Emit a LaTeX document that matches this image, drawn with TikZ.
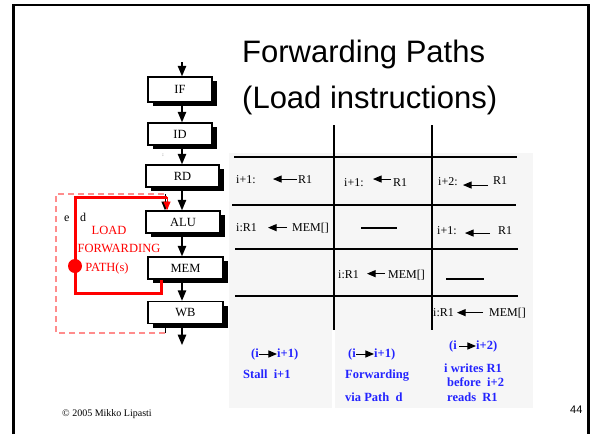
\documentclass[tikz,border=0pt]{standalone}
\usepackage{fontspec}
\setmainfont{Liberation Serif}
\newfontfamily\arialfont{Liberation Sans}
\usetikzlibrary{arrows,shadows}
\definecolor{notes}{RGB}{35,35,255}
\definecolor{panel}{RGB}{246,246,246}

\begin{document}
\begin{tikzpicture}
  [x=1pt,y=-1pt,
   every node/.style={inner sep=0pt,font=\fontsize{12}{14}\selectfont},
   stage/.style={draw,line width=1.6pt,fill=white,minimum height=22pt,
     font=\fontsize{12.5}{14}\selectfont,
     drop shadow={shadow xshift=5pt,shadow yshift=-4pt,fill=black,opacity=1}},
   txt/.style={anchor=base west},
   redtxt/.style={anchor=base,text=red,font=\fontsize{12.5}{14}\selectfont},
   note/.style={anchor=base west,text=notes,font=\fontsize{12.5}{14}\selectfont\bfseries},
   tip/.style={line width=1.4pt,arrows={-{triangle 45}}},
   small/.style={line width=1pt,arrows={-{triangle 45}}}]
  \useasboundingbox (0,0) rectangle (591,434);

  % slide frame
  \draw[line width=2.5pt] (13.5,434) -- (13.5,5) -- (588.5,5) -- (588.5,434);

  % title
  \node[txt,font=\arialfont\fontsize{31}{32}\selectfont] (title1) at (242,62) {Forwarding Paths};
  \node[txt,font=\arialfont\fontsize{31}{32}\selectfont] (title2) at (242,108) {(Load instructions)};

  % table background and grid
  \fill[panel] (229,153) rectangle (533,330);
  \fill[panel] (229,330) rectangle (332,408);
  \fill[panel] (335,330) rectangle (533,408);
  \draw[line width=1.6pt] (334,125) -- (334,330);
  \draw[line width=1.6pt] (432,125) -- (432,330);
  \draw[line width=1.5pt] (234,157) -- (517,157);
  \draw[line width=1.5pt] (232,205) -- (516,205);
  \draw[line width=1.5pt] (235,249) -- (518,249);
  \draw[line width=1.5pt] (235,296) -- (518,296);

  % pipeline
  \node[stage,minimum width=64pt,minimum height=25pt] (IF) at (180,89.5) {IF};
  \node[stage,minimum width=64pt] (ID) at (180,134) {ID};
  \node[stage,minimum width=73pt] (RD) at (182.5,176) {RD};
  \node[stage,minimum width=74pt] (ALU) at (183,222) {ALU};
  \node[stage,minimum width=75pt] (MEM) at (185.5,268) {MEM};
  \node[stage,minimum width=75pt] (WB) at (185.5,312.5) {WB};
  \node[font=\tiny] (dots) at (163,155) {:};

  \coordinate (in) at (182,62);
  \coordinate (out) at (182,345);
  \draw[tip] (in) -- (IF.north -| in);
  \draw[tip] (IF.south -| in) -- (ID.north -| in);
  \draw[tip] (ID.south -| in) -- (RD.north -| in);
  \draw[tip] (RD.south -| in) -- (ALU.north -| in);
  \draw[tip] (ALU.south -| in) -- (MEM.north -| in);
  \draw[tip] (MEM.south -| in) -- (WB.north -| in);
  \draw[tip] (WB.south -| in) -- (out);

  % path e (dashed)
  \coordinate (eTop) at (165,194);
  \coordinate (eBot) at (165,333);
  \coordinate (eLeft) at (56,260);
  \draw[red!45,line width=1.2pt,dash pattern=on 6pt off 4pt] (eBot) -| (eLeft) |- (eTop);
  \draw[small] (eTop) -- (eTop |- ALU.north);
  \draw[line width=1pt] (eBot) -- ++(0,-6);
  \node[txt] (e) at (64,221) {e};
  \node[txt] (d) at (80,221) {d};

  % path d (load forwarding)
  \coordinate (memL) at (161,293);
  \coordinate (fwd) at (167,197);
  \node[circle,fill=red,minimum size=14pt] (dot) at (75,266) {};
  \draw[red,line width=3pt] (memL |- MEM.south) -- (memL) -| (dot.center) |- (fwd);
  \draw[red,small] (fwd) -- (fwd |- ALU.north);
  \node[redtxt] (ld1) at (109,234) {LOAD};
  \node[redtxt] (ld2) at (119,252) {FORWARDING};
  \node[redtxt] (ld3) at (107,271) {PATH(s)};

  % cells
  \node[txt] (a11) at (236,183) {i+1:};
  \node[txt] (b11) at (298,183) {R1};
  \draw[small] ([xshift=-1pt]b11.west) -- ++(-24,0);
  \node[txt] (a12) at (344,186) {i+1:};
  \node[txt] (b12) at (393,186) {R1};
  \draw[small] ([shift={(-2,-3)}]b12.west) -- ++(-18,0);
  \node[txt] (a13) at (438,185) {i+2:};
  \node[txt] (b13) at (493,184) {R1};
  \draw[small] ([shift={(-5,5)}]b13.west) -- ++(-25,0);

  \node[txt] (a21) at (236,231) {i:R1};
  \node[txt] (b21) at (292,231) {MEM[]};
  \draw[small] ([xshift=-5pt]b21.west) -- ++(-19,0);
  \draw[line width=1.5pt] (361,228) -- (397,228);
  \node[txt] (a23) at (437,234) {i+1:};
  \node[txt] (b23) at (498,234) {R1};
  \draw[small] ([shift={(-8,3)}]b23.west) -- ++(-25,0);

  \node[txt] (a32) at (338,278) {i:R1};
  \node[txt] (b32) at (388,278) {MEM[]};
  \draw[small] ([shift={(-3,-1)}]b32.west) -- ++(-18,0);
  \draw[line width=1.5pt] (446,279) -- (484,279);

  \node[txt] (a43) at (433,316) {i:R1};
  \node[txt] (b43) at (489,316) {MEM[]};
  \draw[small] ([xshift=-6pt]b43.west) -- ++(-26,0);

  % notes
  \node[note] (n1a) at (251,357) {(i};
  \node[note] (n1b) at (277,357) {i+1)};
  \draw[small] (n1a.east) -- (n1b.west);
  \node[note] (n1c) at (243,378) {Stall~~i+1};

  \node[note] (n2a) at (348,357) {(i};
  \node[note] (n2b) at (374,357) {i+1)};
  \draw[small] (n2a.east) -- (n2b.west);
  \node[note] (n2c) at (345,378) {Forwarding};
  \node[note] (n2d) at (345,401) {via Path~~d};

  \node[note] (n3a) at (449,349) {(i};
  \node[note] (n3b) at (476,349) {i+2)};
  \draw[small,shorten <=2pt] (n3a.east) -- (n3b.west);
  \node[note] (n3c) at (444,372) {i writes R1};
  \node[note] (n3d) at (447,386) {before~~i+2};
  \node[note] (n3e) at (447,401) {reads~~R1};

  % footer
  \node[txt,font=\fontsize{10}{12}\selectfont] (copy) at (62,416) {\textcopyright{} 2005 Mikko Lipasti};
  \node[txt,font=\arialfont\fontsize{11}{12}\selectfont] (page) at (570,413) {44};
\end{tikzpicture}
\end{document}
